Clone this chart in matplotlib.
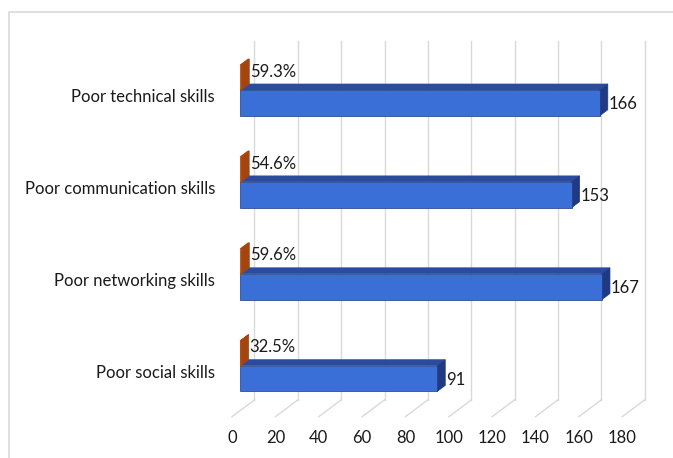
import matplotlib.pyplot as plt
from matplotlib.patches import Polygon, Rectangle

# data (bottom to top, as drawn)
categories = ["Poor social skills", "Poor networking skills",
              "Poor communication skills", "Poor technical skills"]
counts = [91, 167, 153, 166]
shares = [0.325, 0.596, 0.546, 0.593]
ticks = list(range(0, 181, 20))

plt.rcParams['font.family'] = ['Lato', 'DejaVu Sans']

W, H = 673, 458
X0_PX = 240      # pixel column of value 0 on the bars' front face
PX_X = 2.1675    # pixels per unit
Y0_PX = 365.7    # pixel row (from top) of the lowest category
PX_Y = 91.9      # pixels per category
BAR_H = 0.28
FLOOR = -0.49
WALL_TOP = 3.41
FS = 12

fig = plt.figure(figsize=(W / 100, H / 100), dpi=100)
ax = fig.add_axes([0, 0, 1, 1])
ax.set_xlim(-X0_PX / PX_X, (W - X0_PX) / PX_X)
ax.set_ylim((Y0_PX - H) / PX_Y, Y0_PX / PX_Y)
ax.axis('off')

# chart area border
fig.patches.append(Rectangle((8.6 / W, -0.1), 1.2, 1.1 - 12 / H, transform=fig.transFigure,
                             fill=False, ec='#d9d9d9', lw=1.2))


def shift(d):
    # depth offset (in px along x) -> data offset
    return d / PX_X, 0.75 * d / PX_Y


# back wall gridlines and floor lines
wx, wy = shift(14.5)
fx, fy = shift(-8)
for t in ticks:
    ax.plot([t + wx, t + wx], [FLOOR + wy, WALL_TOP + wy], color='#d9d9d9', lw=1, zorder=1)
    ax.plot([t + fx, t + wx], [FLOOR + fy, FLOOR + wy], color='#d9d9d9', lw=1, zorder=1)
    ax.annotate(str(t), (t + fx, FLOOR + fy), xytext=(0, -21), textcoords='offset pixels',
                ha='center', va='center', fontsize=FS, color='#1a1a1a')


def box(x0, x1, y0, y1, front, top, side, depth=8):
    dx, dy = shift(depth)
    ax.add_patch(Polygon([(x0, y1), (x1, y1), (x1 + dx, y1 + dy), (x0 + dx, y1 + dy)],
                         closed=True, fc=top, ec=top, lw=0.5, zorder=3))
    ax.add_patch(Polygon([(x1, y0), (x1 + dx, y0 + dy), (x1 + dx, y1 + dy), (x1, y1)],
                         closed=True, fc=side, ec=side, lw=0.5, zorder=3))
    ax.add_patch(Rectangle((x0, y0), x1 - x0, y1 - y0, fc=front, ec=side, lw=0.5, zorder=3))


for i, (cat, n, s) in enumerate(zip(categories, counts, shares)):
    box(0, n, i - BAR_H, i, '#3a6fd8', '#2b4c9e', '#1f3a82')
    box(0, s, i, i + BAR_H * 0.97, '#d2601a', '#b04a12', '#a4440f')
    ax.annotate(str(n), (n, i - BAR_H / 2), xytext=(9, -1), textcoords='offset pixels',
                ha='left', va='center', fontsize=FS, color='#1a1a1a')
    ax.annotate(f"{s * 100:.1f}%", (s, i + BAR_H / 2), xytext=(9, 5.5), textcoords='offset pixels',
                ha='left', va='center', fontsize=FS, color='#1a1a1a')
    ax.annotate(cat, (0, i), xytext=(-25, -7.5), textcoords='offset pixels',
                ha='right', va='center', fontsize=FS, color='#1a1a1a')

fig.savefig('out.png', dpi=100)
